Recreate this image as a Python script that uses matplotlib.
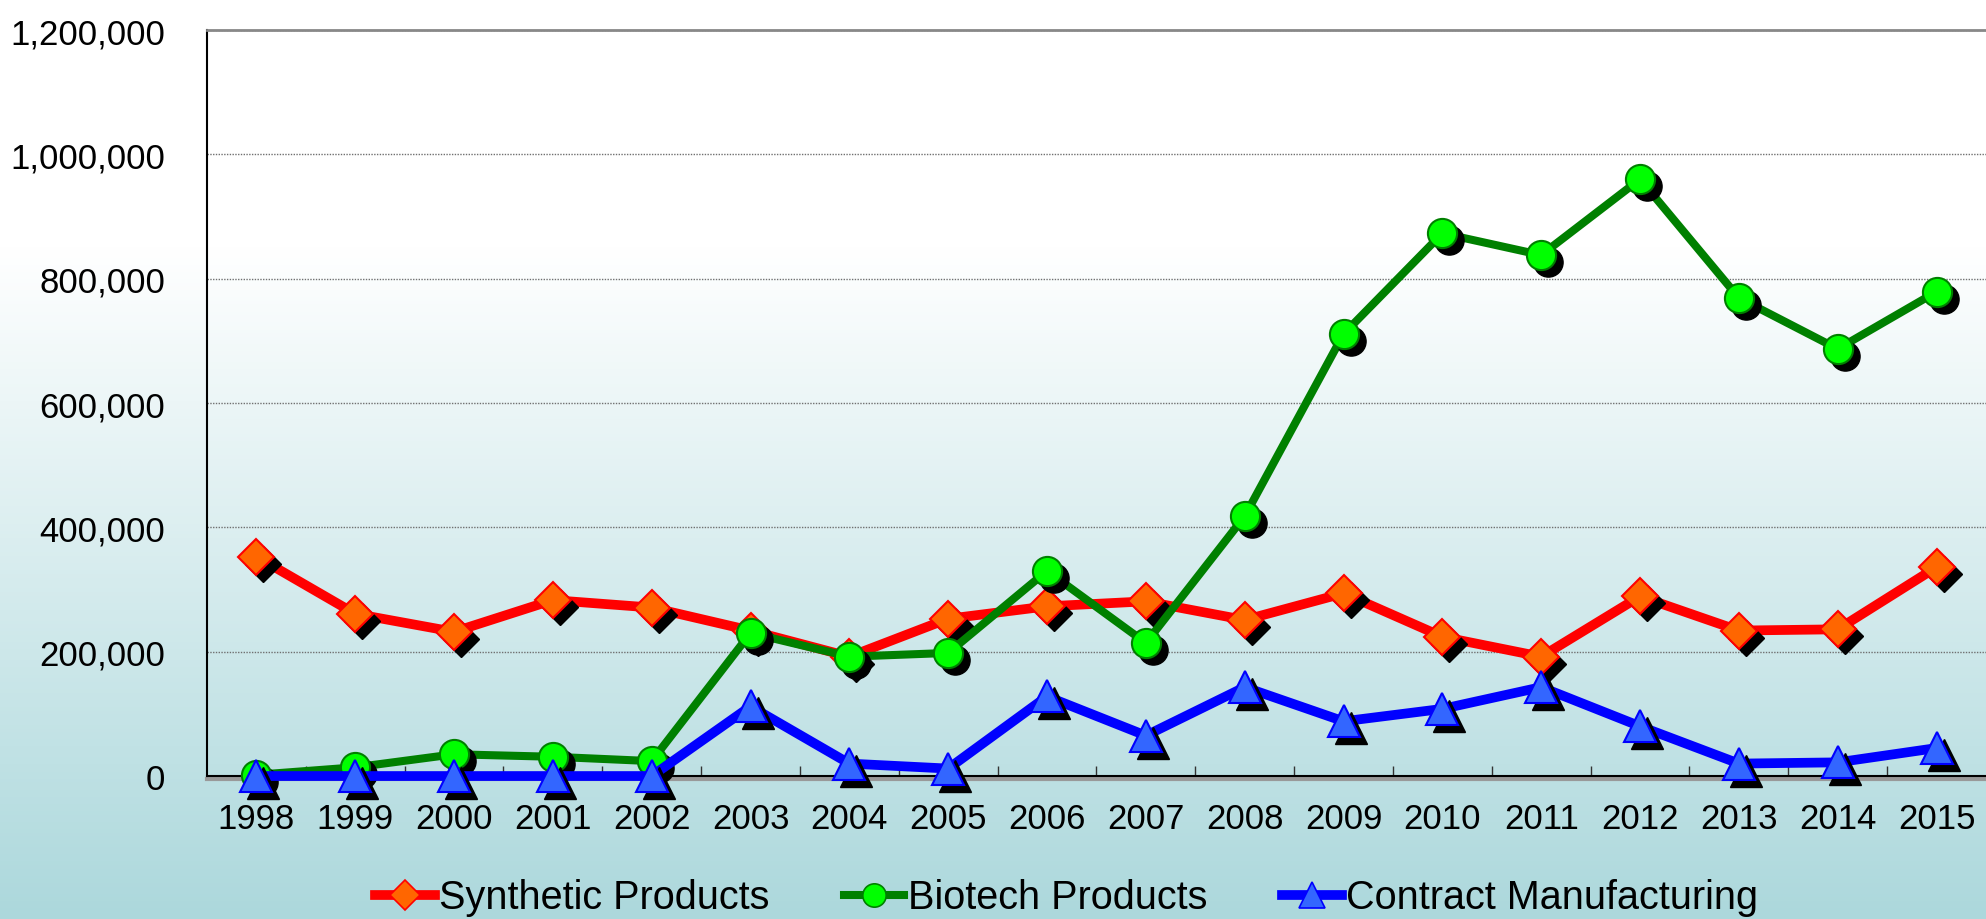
import numpy as np
import matplotlib
matplotlib.use("Agg")
import matplotlib.pyplot as plt
from matplotlib import transforms
from matplotlib.colors import LinearSegmentedColormap
from matplotlib.lines import Line2D
from matplotlib.ticker import FuncFormatter, FixedLocator

plt.rcParams['font.family'] = ['Liberation Sans', 'DejaVu Sans']

# Dane
years = [str(y) for y in range(1998, 2016)]
synthetic = [353000, 261000, 232000, 283000, 271000, 234000, 192000, 253000, 273000,
             281000, 251000, 294000, 224000, 192000, 289000, 234000, 236000, 336000]
biotech = [2000, 14000, 35000, 31000, 24000, 230000, 192000, 198000, 330000,
           214000, 418000, 711000, 873000, 838000, 960000, 769000, 687000, 779000]
contract = [0, 0, 0, 0, 0, 112000, 20000, 12000, 128000,
            65000, 143000, 88000, 108000, 143000, 80000, 20000, 22000, 45000]
labels = ['Synthetic Products', 'Biotech Products', 'Contract Manufacturing']

fig = plt.figure(figsize=(19.86, 9.2), dpi=100)

# tlo - gradient
bg = fig.add_axes([0, 0, 1, 1], zorder=-10)
cmap = LinearSegmentedColormap.from_list('bg', [(0.0, '#ffffff'), (0.27, '#ffffff'), (1.0, '#acd8dc')])
grad = np.linspace(0, 1, 256).reshape(-1, 1)
bg.imshow(grad, aspect='auto', cmap=cmap, extent=[0, 1, 1, 0])
bg.axis('off')

ax = fig.add_axes([0.1042, 0.1554, 0.8958, 0.8109])
ax.set_facecolor('none')
x = np.arange(len(years))

shadow = transforms.offset_copy(ax.transData, fig=fig, x=7, y=-7, units='dots')

series = [
    (synthetic, '#ff0000', 'D', '#ff6600', '#ff0000', 18.5, 7.0),
    (biotech, '#008000', 'o', '#00ff00', '#008000', 21, 5.8),
    (contract, '#0000ff', '^', '#3366ff', '#0000ff', 23, 7.0),
]

handles = []
z = 3
for (vals, lc, mk, fc, ec, ms, lw), lab in zip(series, labels):
    ax.plot(x, vals, color=lc, lw=lw, zorder=z, clip_on=False, solid_joinstyle='round')
    ax.plot(x, vals, ls='none', marker=mk, ms=ms, color='black', mec='black',
            transform=shadow, zorder=z + 0.1, clip_on=False)
    ax.plot(x, vals, ls='none', marker=mk, ms=ms, mfc=fc, mec=ec, mew=1.5,
            zorder=z + 0.2, clip_on=False)
    handles.append(Line2D([], [], color=lc, lw=lw, marker=mk, ms=ms * 0.8,
                          mfc=fc, mec=ec, mew=1.2))
    z += 1

ax.set_xlim(-0.5, len(years) - 0.5)
ax.set_ylim(0, 1200000)
ax.set_yticks(np.arange(0, 1200001, 200000))
ax.yaxis.set_major_formatter(FuncFormatter(lambda v, p: f'{int(v):,}'))
ax.set_xticks(x)
ax.set_xticklabels(years)
ax.xaxis.set_minor_locator(FixedLocator(np.arange(0.5, len(years) - 0.5, 1)))

ax.tick_params(axis='y', length=0, pad=30, labelsize=25)
ax.tick_params(axis='x', which='major', length=0, pad=19, labelsize=25)
ax.tick_params(axis='x', which='minor', direction='in', length=7, width=1, color='#333333')

ax.yaxis.grid(True, color='#707070', linestyle=(0, (1, 1)), lw=1)
ax.set_axisbelow(True)

ax.spines['right'].set_visible(False)
ax.spines['top'].set_color('#888888')
ax.spines['top'].set_linewidth(2)
ax.spines['left'].set_linewidth(1.5)
ax.spines['bottom'].set_linewidth(1.5)
# szary cien pod osia X
ax.plot([-0.5, len(years) - 0.5], [0, 0], color='#999999', lw=3, zorder=1.5, clip_on=False,
        transform=transforms.offset_copy(ax.transData, fig=fig, x=0, y=-2.5, units='dots'))

fig.legend(handles, labels, loc='lower center', bbox_to_anchor=(0.537, -0.036), ncol=3,
           frameon=False, fontsize=28.5, handlelength=1.5, handletextpad=0.1,
           columnspacing=1.9)

fig.savefig('out.png', dpi=100)
